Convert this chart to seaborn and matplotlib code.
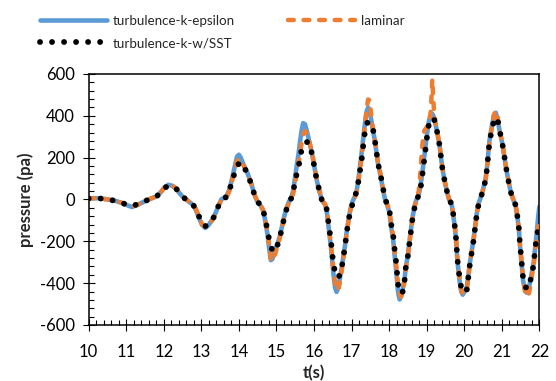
import numpy as np
import matplotlib
matplotlib.use("Agg")
import matplotlib.pyplot as plt
from matplotlib.ticker import MultipleLocator
from matplotlib.lines import Line2D
import seaborn as sns

# time (s)
t = [
    10.00, 10.10, 10.25, 10.40, 10.55, 10.70, 10.88, 11.02, 11.15, 11.30,
    11.50, 11.65, 11.80, 11.92, 12.02, 12.12, 12.22, 12.32, 12.43, 12.54,
    12.65, 12.77, 12.85, 12.93, 13.02, 13.10, 13.18, 13.26, 13.33, 13.40,
    13.46, 13.53, 13.60, 13.68, 13.74, 13.79, 13.84, 13.89, 13.95, 14.00,
    14.05, 14.12, 14.21, 14.32, 14.42, 14.50, 14.58, 14.64, 14.69, 14.76,
    14.81, 14.85, 14.89, 14.95, 15.02, 15.08, 15.15, 15.22, 15.28, 15.33,
    15.40, 15.45, 15.49, 15.54, 15.59, 15.63, 15.67, 15.71, 15.76, 15.82,
    15.87, 15.95, 16.01, 16.07, 16.15, 16.22, 16.29, 16.33, 16.36, 16.40,
    16.45, 16.48, 16.52, 16.56, 16.60, 16.64, 16.68, 16.73, 16.78, 16.83,
    16.87, 16.92, 16.97, 17.02, 17.09, 17.14, 17.17, 17.22, 17.27, 17.31,
    17.35, 17.40, 17.44, 17.48, 17.52, 17.56, 17.61, 17.66, 17.70, 17.77,
    17.83, 17.89, 17.95, 18.01, 18.05, 18.11, 18.14, 18.18, 18.21, 18.24,
    18.28, 18.32, 18.36, 18.41, 18.44, 18.50, 18.54, 18.58, 18.62, 18.68,
    18.72, 18.79, 18.83, 18.86, 18.90, 18.94, 18.98, 19.02, 19.06, 19.11,
    19.15, 19.19, 19.23, 19.28, 19.34, 19.38, 19.42, 19.48, 19.55, 19.60,
    19.67, 19.72, 19.76, 19.79, 19.81, 19.84, 19.88, 19.92, 19.96, 20.01,
    20.07, 20.11, 20.15, 20.20, 20.25, 20.29, 20.33, 20.38, 20.44, 20.49,
    20.57, 20.61, 20.64, 20.67, 20.73, 20.79, 20.84, 20.89, 20.95, 21.02,
    21.07, 21.12, 21.18, 21.25, 21.31, 21.37, 21.42, 21.46, 21.48, 21.51,
    21.54, 21.57, 21.61, 21.66, 21.71, 21.76, 21.79, 21.85, 21.88, 21.92,
    21.96, 22.00,
]

# pressure (pa), turbulence model k-epsilon
k_epsilon = [
    3, 6, 6, 3, -1, -6, -16, -27, -36, -26,
    -8, 4, 14, 35, 58, 70, 66, 52, 28, 6,
    -8, -24, -48, -85, -122, -136, -125, -105, -85, -55,
    -28, 0, 8, 20, 45, 78, 118, 160, 205, 214,
    200, 168, 135, 82, 20, -14, -30, -50, -90, -165,
    -240, -290, -285, -250, -215, -183, -128, -72, -35, -12,
    12, 45, 100, 160, 220, 280, 330, 365, 360, 320,
    280, 218, 155, 95, 35, -8, -22, -45, -85, -150,
    -225, -285, -360, -420, -442, -425, -385, -335, -276, -215,
    -155, -95, -45, -12, 15, 45, 80, 150, 225, 290,
    355, 420, 440, 425, 385, 340, 292, 230, 176, 116,
    56, 0, -28, -62, -125, -195, -255, -325, -385, -445,
    -478, -462, -430, -385, -330, -265, -205, -145, -90, -30,
    -5, 25, 60, 95, 150, 210, 270, 325, 375, 405,
    410, 395, 365, 322, 263, 206, 147, 88, 30, -2,
    -28, -90, -150, -210, -270, -330, -395, -440, -455, -440,
    -418, -362, -305, -245, -188, -128, -72, -20, 10, 40,
    100, 158, 218, 278, 345, 400, 415, 380, 322, 262,
    203, 146, 86, 28, -2, -30, -90, -150, -210, -270,
    -330, -390, -430, -445, -430, -390, -360, -300, -245, -180,
    -100, -35,
]

# pressure (pa), laminar
laminar = [
    3, 6, 6, 3, -1, -6, -16, -26, -34, -25,
    -8, 4, 14, 35, 58, 71, 67, 54, 30, 8,
    -7, -20, -42, -80, -118, -133, -125, -108, -86, -58,
    -30, -2, 6, 15, 38, 68, 105, 140, 182, 195,
    190, 163, 133, 80, 22, -12, -28, -48, -85, -150,
    -225, -280, -296, -270, -228, -192, -135, -78, -40, -18,
    5, 30, 75, 120, 170, 220, 270, 310, 327, 315,
    282, 222, 160, 100, 38, -8, -20, -42, -78, -140,
    -212, -270, -340, -400, -428, -436, -405, -350, -285, -222,
    -162, -102, -50, -18, 10, 38, 70, 135, 205, 270,
    340, 430, 478, 475, 410, 350, 300, 235, 180, 122,
    62, 5, -22, -52, -110, -178, -232, -292, -352, -410,
    -450, -466, -442, -392, -338, -272, -212, -152, -96, -35,
    -6, 40, 120, 200, 290, 330, 340, 350, 370, 420,
    575, 440, 370, 322, 266, 210, 150, 90, 32, 0,
    -24, -85, -144, -202, -263, -322, -380, -435, -452, -448,
    -430, -372, -312, -252, -195, -136, -78, -25, 8, 38,
    95, 152, 212, 272, 340, 405, 425, 395, 328, 265,
    205, 148, 88, 30, 0, -27, -85, -144, -202, -263,
    -322, -380, -430, -465, -460, -415, -375, -318, -262, -205,
    -145, -85,
]

# pressure (pa), turbulence model k-w/SST
k_w_sst = [
    5, 7, 6, 3, -1, -6, -16, -25, -31, -23,
    -8, 4, 14, 32, 55, 66, 62, 54, 30, 8,
    -8, -22, -45, -78, -112, -128, -121, -106, -85, -56,
    -29, -5, 5, 13, 38, 70, 100, 128, 158, 172,
    178, 158, 131, 78, 19, -12, -26, -45, -85, -145,
    -195, -222, -242, -250, -222, -190, -134, -77, -40, -19,
    8, 32, 91, 120, 150, 210, 235, 258, 270, 275,
    271, 215, 155, 96, 37, -10, -16, -40, -72, -135,
    -191, -250, -311, -345, -367, -374, -362, -335, -276, -219,
    -159, -100, -55, -25, 13, 45, 72, 131, 190, 255,
    315, 362, 370, 368, 360, 348, 295, 235, 176, 120,
    61, 5, -24, -53, -112, -172, -228, -287, -346, -407,
    -440, -450, -442, -391, -330, -271, -212, -151, -96, -37,
    -8, 21, 50, 78, 135, 196, 255, 314, 360, 382,
    390, 385, 370, 322, 263, 206, 147, 88, 32, 0,
    -24, -85, -144, -202, -263, -322, -378, -420, -438, -445,
    -431, -370, -311, -252, -195, -135, -77, -25, 10, 37,
    94, 152, 212, 271, 330, 375, 392, 380, 324, 263,
    204, 147, 88, 29, 0, -27, -85, -144, -202, -263,
    -322, -380, -410, -425, -425, -390, -367, -311, -252, -191,
    -150, -110,
]

series_names = ["turbulence-k-epsilon", "laminar", "turbulence-k-w/SST"]
x_ticks = [10, 11, 12, 13, 14, 15, 16, 17, 18, 19, 20, 21, 22]
y_ticks = [-600, -400, -200, 0, 200, 400, 600]

BLUE = "#5B9BD5"
ORANGE = "#ED7D31"
BLACK = "#000000"

sns.set_theme(style="white")
plt.rcParams["font.family"] = ["Lato", "DejaVu Sans"]
plt.rcParams["axes.unicode_minus"] = False

fig = plt.figure(figsize=(5.56, 3.81), dpi=100)
ax = fig.add_axes([0.1595, 0.147, 0.8105, 0.6588])

lw_blue = 3.3
lw_orange = 3.2
lw_black = 4.2
dot_pattern = (0, (0.01, 2.05))
dash_pattern = (0, (1.3, 2.2))

sns.lineplot(x=t, y=k_epsilon, ax=ax, color=BLUE, linewidth=lw_blue,
             errorbar=None, solid_capstyle="round", solid_joinstyle="round",
             zorder=2)
sns.lineplot(x=t, y=laminar, ax=ax, color=ORANGE, linewidth=lw_orange,
             errorbar=None, linestyle=dash_pattern, dash_capstyle="round",
             dash_joinstyle="round", zorder=3)
sns.lineplot(x=t, y=k_w_sst, ax=ax, color=BLACK, linewidth=lw_black,
             errorbar=None, linestyle=dot_pattern, dash_capstyle="round",
             zorder=4)

ax.set_xlim(10, 22)
ax.set_ylim(-600, 600)
ax.set_xticks(x_ticks)
ax.set_yticks(y_ticks)
ax.xaxis.set_minor_locator(MultipleLocator(0.2))
ax.yaxis.set_minor_locator(MultipleLocator(40))

for side in ["left", "bottom", "top", "right"]:
    ax.spines[side].set_visible(True)
    ax.spines[side].set_color("#000000")
    ax.spines[side].set_linewidth(1.1)

ax.tick_params(axis="both", which="major", direction="inout", length=8,
               width=0.8, color="#000000", labelsize=12, labelcolor="#000000",
               bottom=True, left=True, top=False, right=False)
ax.tick_params(axis="both", which="minor", direction="in", length=3.6,
               width=0.8, color="#000000",
               bottom=True, left=True, top=False, right=False)
ax.tick_params(axis="x", which="major", pad=10)
ax.tick_params(axis="y", which="major", pad=6)

ax.set_xlabel("t(s)", fontsize=12, fontweight="bold", labelpad=3)
ax.set_ylabel("pressure (pa)", fontsize=12, fontweight="bold", labelpad=4)
ax.grid(False)

handles = [
    Line2D([], [], color=BLUE, linewidth=lw_blue, solid_capstyle="round"),
    Line2D([], [], color=BLACK, linewidth=lw_black,
           linestyle=dot_pattern, dash_capstyle="round"),
    Line2D([], [], color=ORANGE, linewidth=lw_orange,
           linestyle=dash_pattern, dash_capstyle="round"),
]
labels = [series_names[0], series_names[2], series_names[1]]
fig.legend(handles, labels, loc="upper left", ncol=2, frameon=False,
           bbox_to_anchor=(40 / 556, 1 - 15 / 381), borderaxespad=0,
           borderpad=0, fontsize=9.6, handlelength=5.0, handletextpad=0.45,
           columnspacing=4.0, labelspacing=0.75)

fig.savefig("out.png", dpi=100)
